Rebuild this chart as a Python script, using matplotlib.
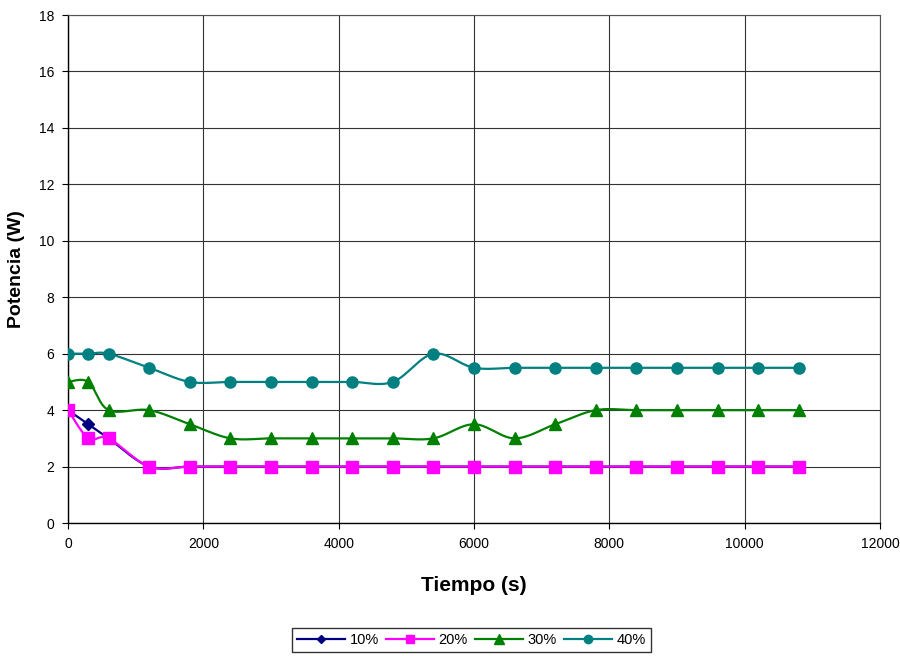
import numpy as np
import matplotlib.pyplot as plt

plt.rcParams['font.family'] = ['Liberation Sans', 'DejaVu Sans']

# datos
tiempo = [0, 300, 600, 1200, 1800, 2400, 3000, 3600, 4200, 4800, 5400,
          6000, 6600, 7200, 7800, 8400, 9000, 9600, 10200, 10800]
p10 = [4, 3.5, 3, 2, 2, 2, 2, 2, 2, 2, 2, 2, 2, 2, 2, 2, 2, 2, 2, 2]
p20 = [4, 3, 3, 2, 2, 2, 2, 2, 2, 2, 2, 2, 2, 2, 2, 2, 2, 2, 2, 2]
p30 = [5, 5, 4, 4, 3.5, 3, 3, 3, 3, 3, 3, 3.5, 3, 3.5, 4, 4, 4, 4, 4, 4]
p40 = [6, 6, 6, 5.5, 5, 5, 5, 5, 5, 5, 6, 5.5, 5.5, 5.5, 5.5, 5.5, 5.5, 5.5, 5.5, 5.5]

series = [
    ('10%', p10, '#000080', 'D', 6),
    ('20%', p20, '#FF00FF', 's', 8),
    ('30%', p30, '#008000', '^', 9),
    ('40%', p40, '#008080', 'o', 8),
]


def suavizar(x, y, n=30):
    # curva tipo Excel (Catmull-Rom en coordenadas de pantalla aprox.)
    x = np.asarray(x, float) / 12000 * 812
    y = np.asarray(y, float) / 18 * 508
    px = np.concatenate([[x[0]], x, [x[-1]]])
    py = np.concatenate([[y[0]], y, [y[-1]]])
    xs, ys = [], []
    t = np.linspace(0, 1, n)
    for i in range(1, len(px) - 2):
        p0 = np.array([px[i - 1], py[i - 1]])
        p1 = np.array([px[i], py[i]])
        p2 = np.array([px[i + 1], py[i + 1]])
        p3 = np.array([px[i + 2], py[i + 2]])
        c1 = p1 + (p2 - p0) / 6
        c2 = p2 - (p3 - p1) / 6
        b = ((1 - t) ** 3)[:, None] * p1 + (3 * (1 - t) ** 2 * t)[:, None] * c1 \
            + (3 * (1 - t) * t ** 2)[:, None] * c2 + (t ** 3)[:, None] * p2
        xs.extend(b[:, 0])
        ys.extend(b[:, 1])
    return np.array(xs) * 12000 / 812, np.array(ys) * 18 / 508


fig = plt.figure(figsize=(9, 6.56), dpi=100)
ax = fig.add_axes([0.0756, 0.2027, 0.9022, 0.7744])

for nombre, y, color, mk, ms in series:
    xs, ys = suavizar(tiempo, y)
    ax.plot(xs, ys, color=color, lw=1.6, zorder=3)
    ax.plot(tiempo, y, linestyle='none', marker=mk, color=color, ms=ms, zorder=4)
    ax.plot([], [], color=color, lw=1.6, marker=mk, ms=ms * 0.75, label=nombre)

ax.set_xlim(0, 12000)
ax.set_ylim(0, 18)
ax.set_xticks(np.arange(0, 12001, 2000))
ax.set_yticks(np.arange(0, 19, 2))
ax.grid(True, color='#333333', lw=0.8)
ax.set_axisbelow(True)
for s in ['top', 'right']:
    ax.spines[s].set_color('#555555')
    ax.spines[s].set_linewidth(0.8)
for s in ['left', 'bottom']:
    ax.spines[s].set_color('black')
    ax.spines[s].set_linewidth(1)
ax.tick_params(labelsize=10, direction='out', length=4, pad=6)

ax.set_xlabel('Tiempo (s)', fontsize=15, fontweight='bold', labelpad=18)
ax.set_ylabel('Potencia (W)', fontsize=14, fontweight='bold', labelpad=10)

fig.legend(loc='center', bbox_to_anchor=(0.524, 0.024), ncol=4, fontsize=10.5,
           frameon=True, fancybox=False, edgecolor='black', handlelength=3.3,
           columnspacing=0.5, handletextpad=0.3, borderpad=0.35)

fig.savefig('out.png', dpi=100)
